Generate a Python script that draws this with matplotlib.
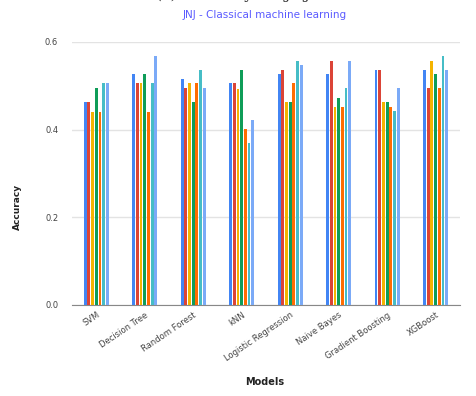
import numpy as np
from matplotlib import pyplot as plt

models = ['SVM', 'Decision Tree', 'Random Forest', 'kNN', 'Logistic Regression',
          'Naive Bayes', 'Gradient Boosting', 'XGBoost']

# one list per bar colour (7 runs per model)
s1 = [0.464, 0.527, 0.515, 0.506, 0.527, 0.527, 0.537, 0.537]
s2 = [0.464, 0.506, 0.495, 0.506, 0.537, 0.557, 0.537, 0.495]
s3 = [0.441, 0.506, 0.506, 0.492, 0.464, 0.451, 0.464, 0.557]
s4 = [0.495, 0.527, 0.464, 0.537, 0.464, 0.473, 0.464, 0.527]
s5 = [0.441, 0.441, 0.506, 0.401, 0.506, 0.451, 0.451, 0.495]
s6 = [0.506, 0.506, 0.537, 0.369, 0.557, 0.495, 0.443, 0.569]
s7 = [0.506, 0.569, 0.495, 0.422, 0.548, 0.557, 0.495, 0.537]
series = [s1, s2, s3, s4, s5, s6, s7]
colors = ['#4285f4', '#db4437', '#f4b400', '#0f9d58', '#ff6d01', '#46bdc6', '#7baaf7']

fig = plt.figure(figsize=(4.77, 3.96), dpi=100)
ax = fig.add_axes([0.151, 0.230, 0.813, 0.664])

x = np.arange(len(models))
step = 0.076
for i, (vals, c) in enumerate(zip(series, colors)):
    ax.bar(x + (i - 3) * step, vals, width=step * 0.78, color=c, zorder=3)

ax.set_ylim(0, 0.6)
ax.set_xlim(-0.5, len(models) - 0.5)
ax.set_yticks([0.0, 0.2, 0.4, 0.6])
ax.set_yticklabels(['0.0', '0.2', '0.4', '0.6'])
ax.yaxis.grid(True, color='#e3e3e3', linewidth=1, zorder=0)
for s in ['top', 'right', 'left']:
    ax.spines[s].set_visible(False)
ax.spines['bottom'].set_color('#888888')
ax.tick_params(axis='both', length=0, labelsize=6, labelcolor='#444444')
ax.tick_params(axis='y', pad=10)
ax.set_xticks(x)
ax.set_xticklabels(models, rotation=34, ha='right', rotation_mode='anchor')
ax.tick_params(axis='x', pad=4)

fig.text(0.555, 0.035, 'Models', ha='center', va='center', fontsize=7, fontweight='bold', color='#222222')
fig.text(0.036, 0.477, 'Accuracy', ha='center', va='center', rotation=90, fontsize=6.5,
         fontweight='bold', color='#222222')
fig.text(0.555, 0.962, 'JNJ - Classical machine learning', ha='center', va='center',
         fontsize=7.5, color='#5a5aff')
# caption above the chart, cut off at the top edge as in the source image
fig.text(0.555, 1.012, '(c) Accuracy for JNJ Dataset', ha='center', va='center',
         fontsize=11, family='DejaVu Serif', color='#333333')

fig.savefig('out.png', dpi=100)
